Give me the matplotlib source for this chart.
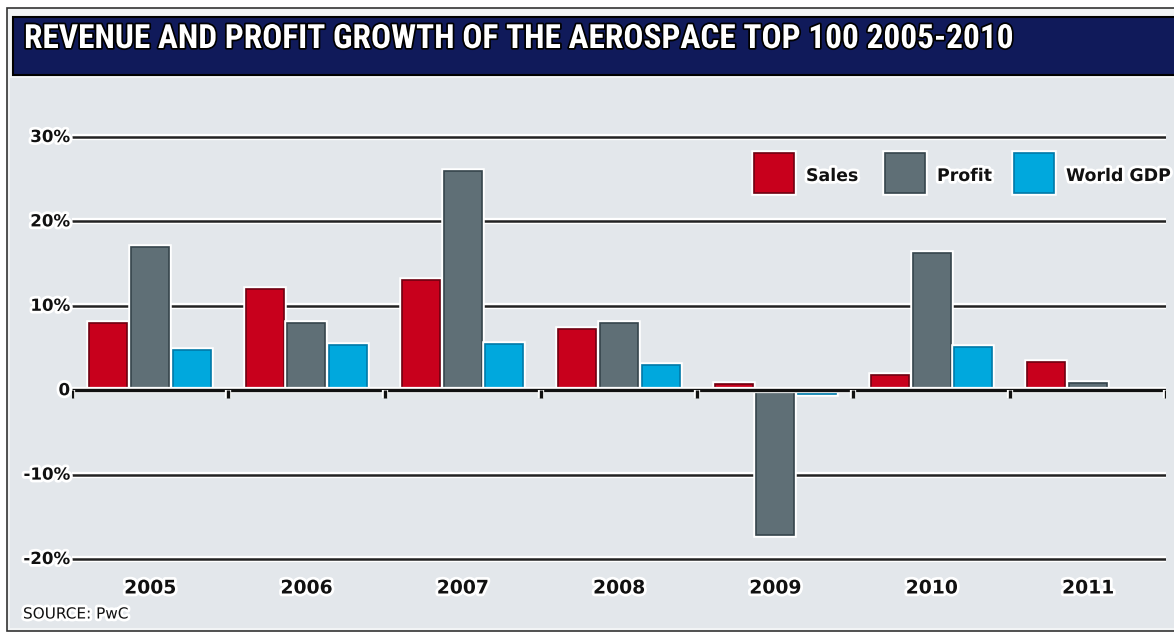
import numpy as np
import matplotlib
matplotlib.use("Agg")
from matplotlib import pyplot as plt
from matplotlib import patches
from matplotlib import patheffects as pe
from matplotlib import font_manager

# Growth rates in percent, per year
years = ["2005", "2006", "2007", "2008", "2009", "2010", "2011"]
sales = [8.0, 12.0, 13.0, 7.3, 0.7, 1.8, 3.3]
profit = [17.0, 8.0, 26.0, 8.0, -17.2, 16.3, 0.9]
world_gdp = [4.8, 5.4, 5.5, 3.0, -0.4, 5.1, np.nan]

series = ["Sales", "Profit", "World GDP"]
colors = ["#c8001c", "#5f6f76", "#00a8dd"]
edges = ["#6e0010", "#35444b", "#0079a8"]

y_ticks = [-20, -10, 0, 10, 20, 30]
y_labels = ["-20%", "-10%", "0", "10%", "20%", "30%"]

W, H = 1174, 634


def fx(px):
    return px / W


def fy(py):
    return 1 - py / H


names = {f.name for f in font_manager.fontManager.ttflist}
title_font = "DejaVu Sans"
for cand in ["Liberation Sans Narrow", "Roboto Condensed", "DejaVu Sans Condensed", "Roboto"]:
    if cand in names:
        title_font = cand
        break

fig = plt.figure(figsize=(W / 100, H / 100), dpi=100)
fig.patch.set_facecolor("white")

# outer frame, grey panel and the navy title banner
fig.add_artist(patches.Rectangle((fx(7), fy(631)), fx(1180) - fx(7), fy(8) - fy(631),
                                 transform=fig.transFigure, facecolor="#f2f4f5",
                                 edgecolor="#333333", linewidth=1.2, zorder=0))
fig.add_artist(patches.Rectangle((fx(10), fy(628)), fx(1180) - fx(10), fy(78) - fy(628),
                                 transform=fig.transFigure, facecolor="#e3e7eb",
                                 edgecolor="none", zorder=0))
fig.add_artist(patches.Rectangle((fx(13), fy(75)), fx(1180) - fx(13), fy(17) - fy(75),
                                 transform=fig.transFigure, facecolor="#101a5a",
                                 edgecolor="#000000", linewidth=1.5, zorder=1))
fig.text(fx(24), fy(39), "REVENUE AND PROFIT GROWTH OF THE AEROSPACE TOP 100 2005-2010",
         color="white", fontsize=24, fontweight="black", family=title_font,
         va="center", ha="left", zorder=2,
         path_effects=[pe.withStroke(linewidth=2.5, foreground="#000000")])

# data axes: -0.5..6.5 across, -23..33 percent vertically
ymin, ymax = -23, 33
px_per_pct = (559 - 137) / 50
top_px = 137 - (ymax - 30) * px_per_pct
bot_px = 559 + (-20 - ymin) * px_per_pct
ax = fig.add_axes([fx(72), fy(bot_px), fx(1166) - fx(72), fy(top_px) - fy(bot_px)])
ax.set_facecolor("none")
ax.set_xlim(-0.5, len(years) - 0.5)
ax.set_ylim(ymin, ymax)
for s in ax.spines.values():
    s.set_visible(False)
ax.set_xticks([])
ax.set_yticks([])

halo = [pe.withStroke(linewidth=4, foreground="white")]
line_halo = [pe.Stroke(linewidth=4.5, foreground="white"), pe.Normal()]

# gridlines
for v in y_ticks:
    if v == 0:
        continue
    ax.plot([-0.5, len(years) - 0.5 + 0.01], [v, v], color="#222222", lw=1.8,
            zorder=1, path_effects=line_halo, solid_capstyle="butt")

x = np.arange(len(years))
offset = 0.267
width = 0.243
for i, (vals, c, ec) in enumerate(zip([sales, profit, world_gdp], colors, edges)):
    bars = ax.bar(x + (i - 1) * offset, vals, width=width, color=c, edgecolor=ec,
                  linewidth=1.2, zorder=3)
    for b in bars:
        b.set_path_effects([pe.Stroke(linewidth=4, foreground="white"), pe.Normal()])

# zero line with downward ticks at group boundaries
ax.plot([-0.5, len(years) - 0.5], [0, 0], color="#111111", lw=2.4, zorder=4,
        path_effects=line_halo, solid_capstyle="butt")
tick_len = 8 / px_per_pct
for b in np.arange(-0.5, len(years), 1.0):
    ax.plot([b, b], [0, -tick_len], color="#111111", lw=2.4, zorder=4,
            path_effects=line_halo, solid_capstyle="butt")

# y labels
for v, lab in zip(y_ticks, y_labels):
    ax.text(-0.5 - 2 / 156, v, lab, ha="right", va="center", fontsize=12,
            fontweight="bold", color="#111111", path_effects=halo, zorder=5)

# year labels
for xi, yr in zip(x, years):
    fig.text(fx(72 + (xi + 0.5) * 156.3), fy(588), yr, ha="center", va="center",
             fontsize=13.5, fontweight="bold", color="#111111", path_effects=halo)

fig.text(fx(23), fy(614), "SOURCE: PwC", ha="left", va="center", fontsize=11,
         color="#111111", path_effects=halo)

# legend
legend_x = [754, 885, 1014]
for lx, name, c, ec in zip(legend_x, series, colors, edges):
    fig.add_artist(patches.Rectangle((fx(lx), fy(193)), fx(40), 40 / H,
                                     transform=fig.transFigure, facecolor=c,
                                     edgecolor=ec, linewidth=1.2, zorder=5,
                                     path_effects=[pe.Stroke(linewidth=4, foreground="white"),
                                                   pe.Normal()]))
    fig.text(fx(lx + 52), fy(176), name, ha="left", va="center", fontsize=12.5,
             fontweight="bold", color="#111111", path_effects=halo)

fig.savefig("out.png", dpi=100)
